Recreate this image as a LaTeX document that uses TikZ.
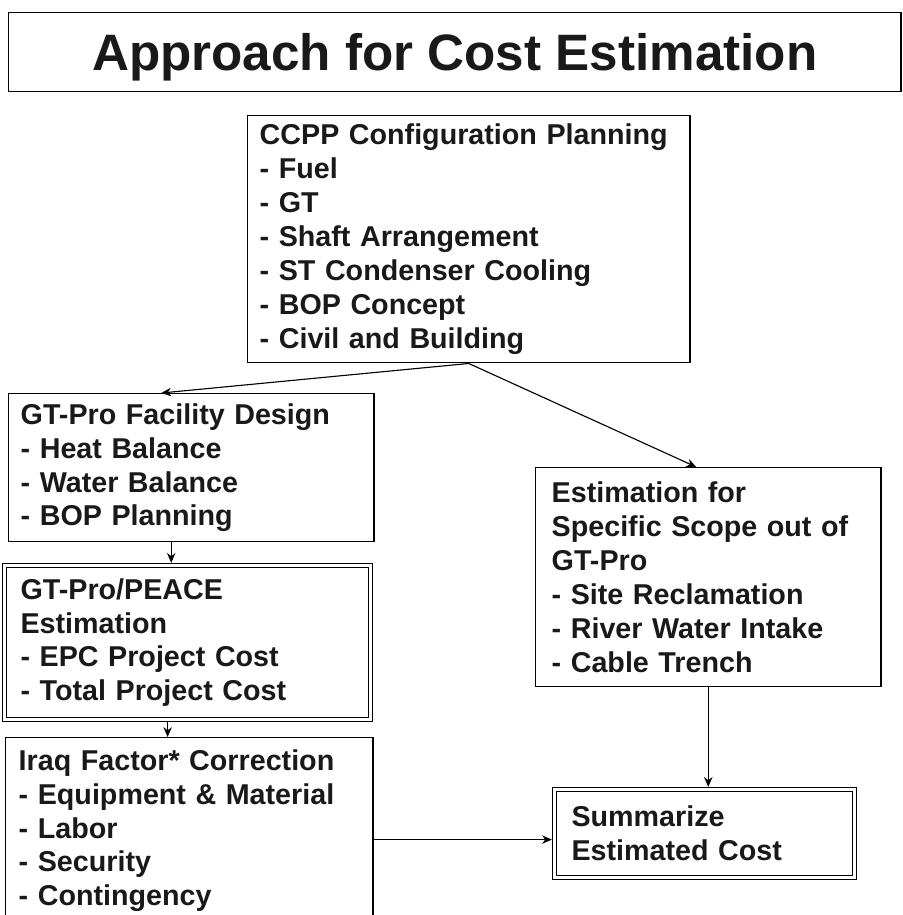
\documentclass[tikz,border=0pt]{standalone}
\usepackage{fontspec}
\setmainfont{Liberation Sans}
\usetikzlibrary{arrows.meta,positioning}

\begin{document}
\begin{tikzpicture}[x=0.025cm, y=-0.025cm,
  every node/.style={align=left, anchor=north west, text=black!90, font=\bfseries\fontsize{20.4}{24.1}\selectfont},
  box/.style={draw, line width=1pt},
  dbox/.style={draw, line width=0.8pt, double, double distance=2pt},
  link/.style={-{Stealth[length=7pt,width=6pt]}, line width=0.8pt}]
\clip (0,0) rectangle (902,915);

\node[box, minimum width=22.3cm, minimum height=1.975cm, align=center, text depth=0pt, font=\bfseries\fontsize{36.4}{40}\selectfont] (title) at (8,12) {Approach for Cost Estimation};

\node[box, minimum width=11.05cm, minimum height=6.175cm, text width=10.45cm, inner xsep=0.3cm] (ccpp) at (247,115) {CCPP Configuration Planning\\- Fuel\\- GT\\- Shaft Arrangement\\- ST Condenser Cooling\\- BOP Concept\\- Civil and Building};
\node[box, minimum width=9.125cm, minimum height=3.7cm, text width=8.525cm, inner xsep=0.3cm] (fd) at (8,393) {GT-Pro Facility Design\\- Heat Balance\\- Water Balance\\- BOP Planning};
\node[dbox, minimum width=9.15cm, minimum height=3.85cm, text width=8.35cm, inner xsep=0.4cm] (peace) at (4,565) {GT-Pro/PEACE\\Estimation\\- EPC Project Cost\\- Total Project Cost};
\node[box, minimum width=9.175cm, minimum height=4.65cm, text width=8.525cm, inner xsep=0.325cm] (iraq) at (5,737) {Iraq Factor* Correction\\- Equipment \& Material\\- Labor\\- Security\\- Contingency};
\node[box, minimum width=8.625cm, minimum height=5.475cm, text width=7.825cm, inner xsep=0.4cm] (est) at (535,467) {Estimation for\\Specific Scope out of\\GT-Pro\\- Site Reclamation\\- River Water Intake\\- Cable Trench};
\node[dbox, minimum width=7.5cm, minimum height=2.2cm, text width=6.65cm, inner xsep=0.425cm] (sum) at (554,789) {Summarize\\Estimated Cost};

\coordinate (join) at ([yshift=-0.15cm]sum.west);

\draw[link] (ccpp.south) -- ([xshift=-0.75cm]fd.north);
\draw[link] (ccpp.south) -- ([xshift=-0.3cm]est.north);
\draw[link, shorten >=1.5pt] ([xshift=-0.5cm]fd.south) -- ([xshift=-0.5cm]fd.south |- peace.north);
\draw[link, shorten <=1.5pt] ([xshift=-0.5cm]peace.south) -- ([xshift=-0.5cm]peace.south |- iraq.north);
\draw[link, shorten >=1.5pt] (est.south) -- (est.south |- sum.north);
\draw[link, shorten >=1.5pt] (join -| iraq.east) -- (join);
\end{tikzpicture}
\end{document}
